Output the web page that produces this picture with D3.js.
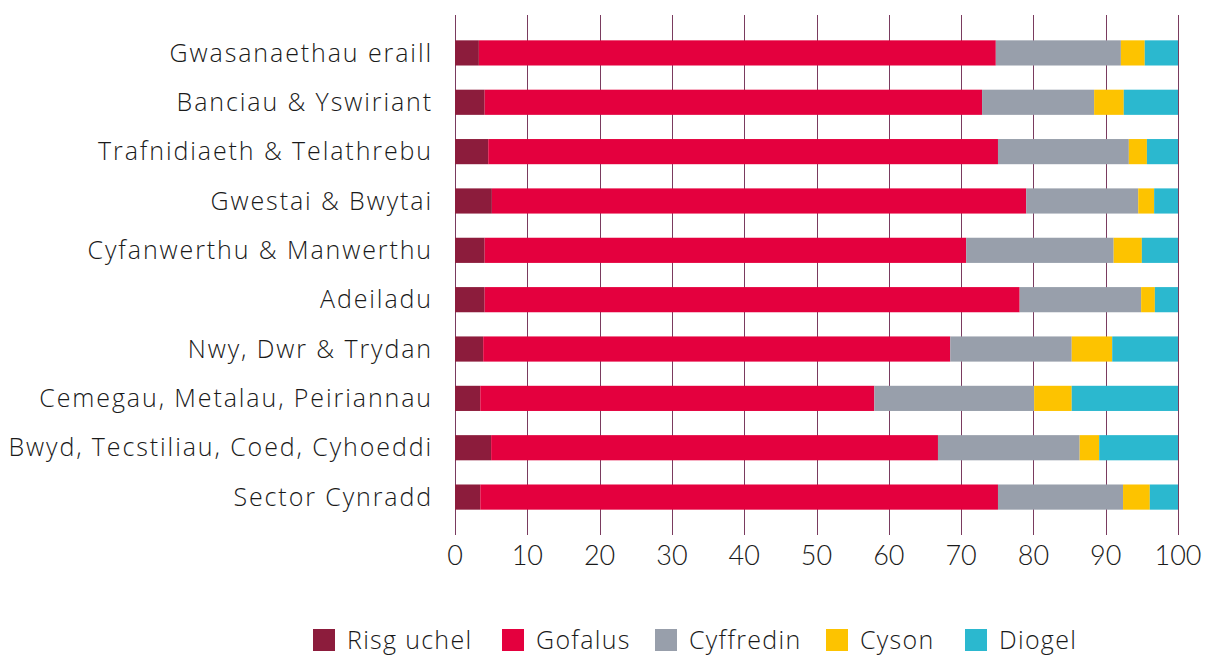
<!DOCTYPE html>
<html>
<head>
<meta charset="utf-8">
<script src="https://cdn.jsdelivr.net/npm/d3@7"></script>
<style>
  body { margin: 0; background: #fff; }
  svg text { font-family: "Open Sans", Lato, sans-serif; font-weight: 300; fill: #1a1a1a; }
  svg text.tick { font-family: Lato, "Open Sans", sans-serif; }
</style>
</head>
<body>
<div id="chart"></div>
<script>
const WIDTH = 1210;
const HEIGHT = 656;

// categories, top to bottom
const categories = [
  "Gwasanaethau eraill",
  "Banciau & Yswiriant",
  "Trafnidiaeth & Telathrebu",
  "Gwestai & Bwytai",
  "Cyfanwerthu & Manwerthu",
  "Adeiladu",
  "Nwy, Dwr & Trydan",
  "Cemegau, Metalau, Peiriannau",
  "Bwyd, Tecstiliau, Coed, Cyhoeddi",
  "Sector Cynradd"
];
const seriesNames = ["Risg uchel", "Gofalus", "Cyffredin", "Cyson", "Diogel"];
const seriesColors = ["#8c1c3c", "#e4003e", "#989fab", "#fdc300", "#2bb8cf"];

// percentage values per series (same order as categories)
const risgUchel = [3.3, 4.1, 4.6, 5.1, 4.1, 4.1, 3.9, 3.5, 5.0, 3.5];
const gofalus   = [71.5, 68.8, 70.5, 73.9, 66.6, 74.0, 64.6, 54.5, 61.8, 71.6];
const cyffredin = [17.3, 15.5, 18.1, 15.5, 20.4, 16.8, 16.8, 22.1, 19.6, 17.3];
const cyson     = [3.3, 4.1, 2.5, 2.2, 3.9, 1.9, 5.6, 5.2, 2.7, 3.7];
const diogel    = [4.6, 7.5, 4.3, 3.3, 5.0, 3.2, 9.1, 14.7, 10.9, 3.9];
const xTicks = [0, 10, 20, 30, 40, 50, 60, 70, 80, 90, 100];

const table = categories.map((c, i) => ({
  cat: c,
  "Risg uchel": risgUchel[i],
  "Gofalus": gofalus[i],
  "Cyffredin": cyffredin[i],
  "Cyson": cyson[i],
  "Diogel": diogel[i]
}));

const margin = {top: 28, left: 455, right: 32};
const plotBottom = 522;

const x = d3.scaleLinear().domain([0, 100]).range([margin.left, WIDTH - margin.right]);
const y = d3.scaleBand().domain(categories).range([margin.top, plotBottom]).paddingInner(0.49).paddingOuter(0.25);
const color = d3.scaleOrdinal().domain(seriesNames).range(seriesColors);

const svg = d3.select("#chart").append("svg")
  .attr("width", WIDTH)
  .attr("height", HEIGHT);

// vertical gridlines + tick marks
svg.append("g")
  .selectAll("line")
  .data(xTicks)
  .join("line")
  .attr("x1", d => Math.round(x(d)) + 0.5)
  .attr("x2", d => Math.round(x(d)) + 0.5)
  .attr("y1", 15)
  .attr("y2", 535)
  .attr("stroke", "#7a3b5f")
  .attr("stroke-width", 1);

// stacked bars
const stack = d3.stack().keys(seriesNames)(table);
svg.append("g")
  .selectAll("g")
  .data(stack)
  .join("g")
  .attr("fill", d => color(d.key))
  .selectAll("rect")
  .data(d => d)
  .join("rect")
  .attr("x", d => x(d[0]))
  .attr("y", d => y(d.data.cat))
  .attr("width", d => x(d[1]) - x(d[0]))
  .attr("height", y.bandwidth());

// category labels
svg.append("g")
  .selectAll("text")
  .data(categories)
  .join("text")
  .attr("x", 433)
  .attr("y", d => y(d) + y.bandwidth() / 2)
  .attr("dy", "0.35em")
  .attr("text-anchor", "end")
  .style("font-size", "25px")
  .style("letter-spacing", "1.9px")
  .text(d => d);

// x tick labels
svg.append("g")
  .selectAll("text")
  .data(xTicks)
  .join("text")
  .attr("class", "tick")
  .attr("x", d => x(d))
  .attr("y", 556)
  .attr("dy", "0.35em")
  .attr("text-anchor", "middle")
  .style("font-size", "27px")
  .text(d => d);

// legend
const legendX = [313, 502, 655, 826, 965];
const legend = svg.append("g")
  .selectAll("g")
  .data(seriesNames)
  .join("g")
  .attr("transform", (d, i) => `translate(${legendX[i]},629)`);
legend.append("rect")
  .attr("width", 22)
  .attr("height", 22)
  .attr("fill", d => color(d));
legend.append("text")
  .attr("x", 34)
  .attr("y", 11)
  .attr("dy", "0.35em")
  .style("font-size", "25px")
  .style("letter-spacing", "1.3px")
  .text(d => d);
</script>
</body>
</html>
